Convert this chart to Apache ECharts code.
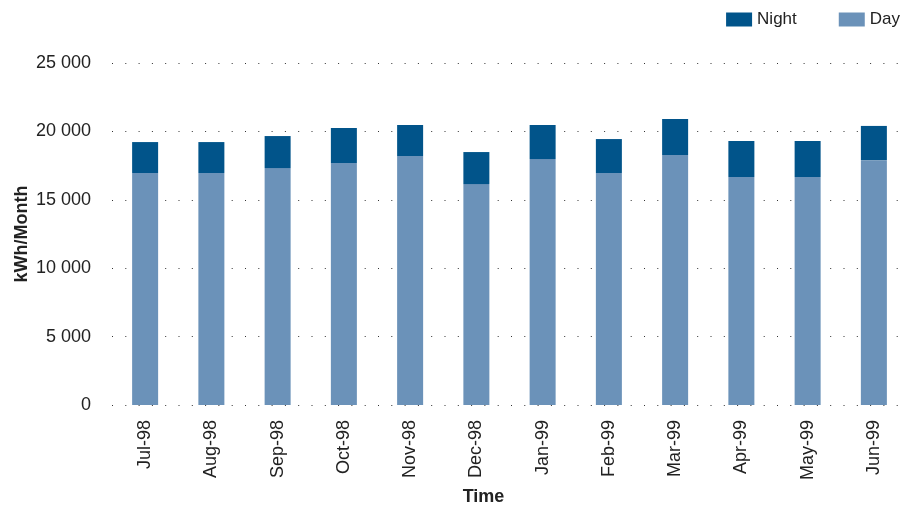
<!DOCTYPE html>
<html>
<head>
<meta charset="utf-8">
<script src="https://cdn.jsdelivr.net/npm/echarts@6/dist/echarts.min.js"></script>
<style>
  html, body { margin: 0; padding: 0; background: #fff; }
  #chart { width: 909px; height: 508px; }
</style>
</head>
<body>
<div id="chart"></div>
<script>
// months on the x axis
const months = ['Jul-98', 'Aug-98', 'Sep-98', 'Oct-98', 'Nov-98', 'Dec-98',
                'Jan-99', 'Feb-99', 'Mar-99', 'Apr-99', 'May-99', 'Jun-99'];
// kWh per month
const dayValues = [16960, 16960, 17320, 17690, 18200, 16150, 17980, 16960, 18270, 16670, 16670, 17900];
const nightValues = [2260, 2260, 2340, 2560, 2270, 2340, 2490, 2480, 2640, 2630, 2630, 2500];

const font = 'Liberation Sans, Arial, sans-serif';

const chart = echarts.init(document.getElementById('chart'));
chart.setOption({
    animation: false,
    textStyle: { fontFamily: font },
    legend: {
        data: ['Night', 'Day'],
        icon: 'rect',
        top: 6,
        right: 4,
        itemWidth: 26,
        itemHeight: 14,
        itemGap: 42,
        textStyle: { fontSize: 17, color: '#222', fontFamily: font }
    },
    grid: { left: 112, right: 2, top: 63, bottom: 103, containLabel: false, outerBoundsMode: 'none' },
    xAxis: {
        type: 'category',
        data: months,
        name: 'Time',
        nameLocation: 'middle',
        nameGap: 83,
        nameMoveOverlap: false,
        nameTextStyle: { fontSize: 18, fontWeight: 'bold', color: '#222', padding: [0, 52, 0, 0] },
        axisLine: { show: false },
        axisTick: { show: false },
        axisLabel: { rotate: 90, fontSize: 18, color: '#222', margin: 15 }
    },
    yAxis: {
        type: 'value',
        min: 0,
        max: 25000,
        interval: 5000,
        name: 'kWh/Month',
        nameLocation: 'middle',
        nameGap: 81,
        nameMoveOverlap: false,
        nameTextStyle: { fontSize: 18, fontWeight: 'bold', color: '#222' },
        axisLine: { show: false },
        axisTick: { show: false },
        axisLabel: {
            fontSize: 18,
            color: '#222',
            margin: 21,
            formatter: v => String(v).replace(/\B(?=(\d{3})+(?!\d))/g, ' ')
        },
        splitLine: { lineStyle: { color: '#333', type: [1, 12.3], width: 1 } }
    },
    series: [
        {
            name: 'Day',
            type: 'bar',
            stack: 'total',
            barWidth: 26,
            itemStyle: { color: '#6B92B9' },
            data: dayValues
        },
        {
            name: 'Night',
            type: 'bar',
            stack: 'total',
            barWidth: 26,
            itemStyle: { color: '#01548A' },
            data: nightValues
        }
    ]
});
</script>
</body>
</html>
